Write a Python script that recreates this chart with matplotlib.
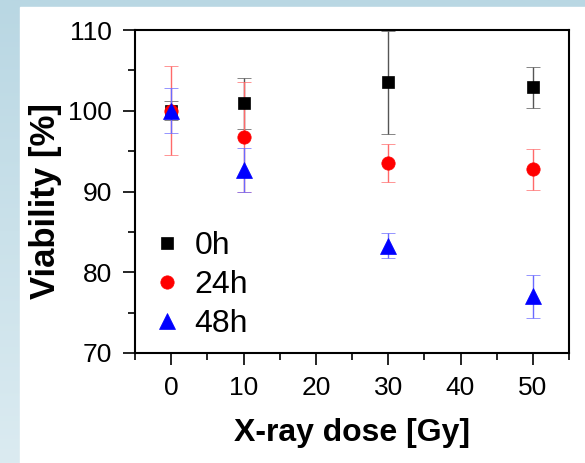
import numpy as np
import matplotlib
matplotlib.use('Agg')
import matplotlib.pyplot as plt
from matplotlib.colors import LinearSegmentedColormap
from matplotlib.patches import Rectangle

plt.rcParams['font.family'] = ['Liberation Sans', 'DejaVu Sans']

# viability (%) vs dose, mean and error per time point
doses = [0, 10, 30, 50]
labels = ['0h', '24h', '48h']
via_0h = [100.0, 100.9, 103.5, 102.9]
err_0h = [1.2, 3.2, 6.4, 2.55]
via_24h = [100.0, 96.8, 93.5, 92.75]
err_24h = [5.5, 6.8, 2.35, 2.55]
via_48h = [100.0, 92.7, 83.3, 77.0]
err_48h = [2.8, 2.7, 1.55, 2.7]

W, H = 585, 463
fig = plt.figure(figsize=(W / 100, H / 100), dpi=100)

# slide-style backdrop: pale blue gradient with a white panel on top
bg = fig.add_axes([0, 0, 1, 1], zorder=-10)
grad = np.linspace(0, 1, 256).reshape(-1, 1)
cmap = LinearSegmentedColormap.from_list('bgblue', ['#b9d7e3', '#dbebf1'])
bg.imshow(grad, aspect='auto', cmap=cmap, extent=[0, 1, 0, 1], origin='upper')
bg.add_patch(Rectangle((20 / W, 0), 1, 1 - 7 / H, color='white'))
bg.set_xlim(0, 1)
bg.set_ylim(0, 1)
bg.axis('off')

ax = fig.add_axes([135 / W, (H - 353) / H, 434 / W, 323 / H])

series = [
    (via_0h, err_0h, 's', 'black', '#555555', 8.4),
    (via_24h, err_24h, 'o', 'red', '#ff6a6a', 9.6),
    (via_48h, err_48h, '^', 'blue', '#6a6aff', 11.5),
]
handles = []
for (vals, errs, mk, col, ecol, ms), lab in zip(series, labels):
    c = ax.errorbar(doses, vals, yerr=errs, fmt=mk, color=col, ecolor=ecol,
                    ms=ms, mew=0.5, elinewidth=1.0, capsize=4.7, capthick=1.0,
                    label=lab)
    handles.append(c[0])

ax.set_xlim(-5, 55)
ax.set_ylim(70, 110)
ax.set_xticks([0, 10, 20, 30, 40, 50])
ax.set_xticks([-5, 5, 15, 25, 35, 45, 55], minor=True)
ax.set_yticks([70, 80, 90, 100, 110])
ax.set_yticks([75, 85, 95, 105], minor=True)
ax.tick_params(which='both', direction='out', top=False, right=False,
               width=1.2, labelsize=19, pad=8)
ax.tick_params(which='major', length=8.5)
ax.tick_params(which='minor', length=5)
for sp in ax.spines.values():
    sp.set_linewidth(1.5)

ax.set_xlabel('X-ray dose [Gy]', fontsize=23, fontweight='bold', labelpad=13)
ax.set_ylabel('Viability [%]', fontsize=25, fontweight='bold')
ax.yaxis.set_label_coords(-0.168, 0.47)

ax.legend(handles, labels, loc='center left', bbox_to_anchor=(0.045, 0.21),
          frameon=False, fontsize=23, handlelength=0.8, handletextpad=0.45,
          labelspacing=0.28, borderpad=0, borderaxespad=0, numpoints=1)

fig.savefig('out.png', dpi=100)
